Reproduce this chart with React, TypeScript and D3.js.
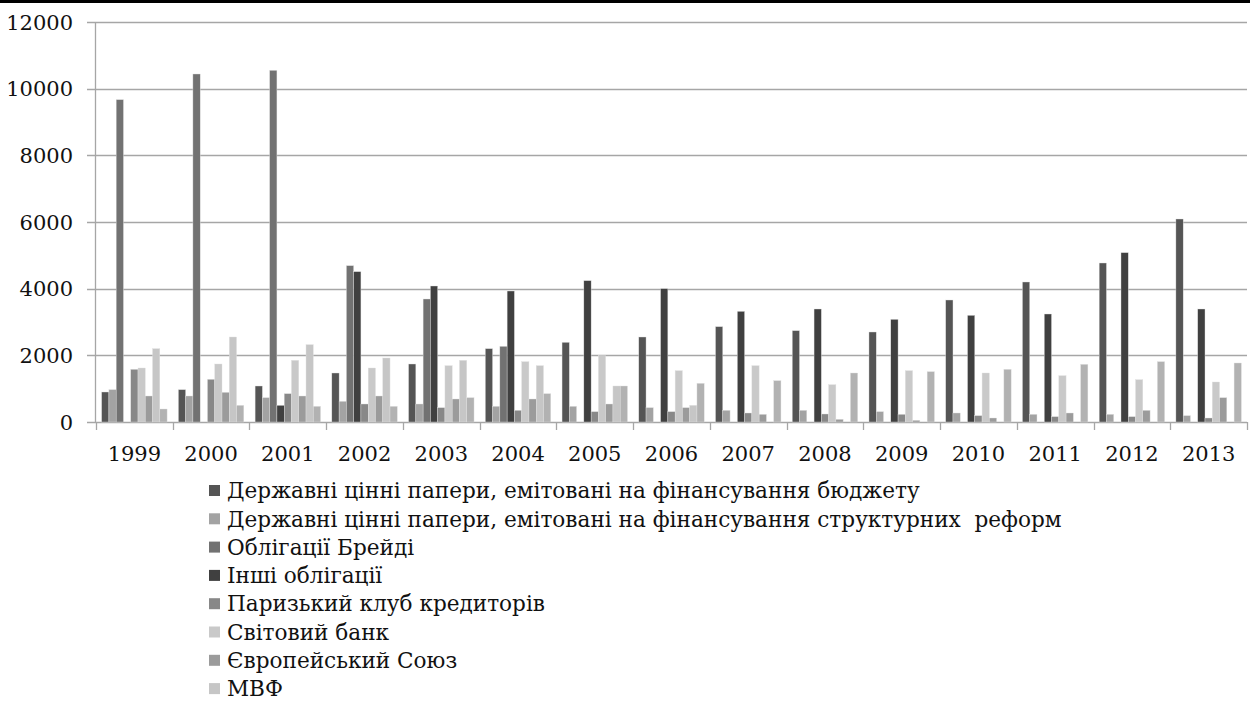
import React from "react";
import * as d3 from "d3";

const years = ["1999", "2000", "2001", "2002", "2003", "2004", "2005", "2006", "2007", "2008", "2009", "2010", "2011", "2012", "2013"];

const seriesNames = [
  "Державні цінні папери, емітовані на фінансування бюджету",
  "Державні цінні папери, емітовані на фінансування структурних  реформ",
  "Облігації Брейді",
  "Інші облігації",
  "Паризький клуб кредиторів",
  "Світовий банк",
  "Європейський Союз",
  "МВФ",
  "Інші кредитори",
];

const budgetBonds = [900, 970, 1080, 1470, 1740, 2200, 2390, 2550, 2860, 2740, 2700, 3660, 4200, 4770, 6090];
const reformBonds = [970, 780, 730, 620, 540, 470, 470, 430, 350, 350, 310, 270, 230, 230, 190];
const bradyBonds = [9670, 10440, 10550, 4690, 3690, 2270, 0, 0, 0, 0, 0, 0, 0, 0, 0];
const otherBonds = [0, 0, 500, 4510, 4080, 3930, 4240, 4000, 3320, 3390, 3080, 3200, 3240, 5080, 3390];
const parisClub = [1580, 1280, 850, 540, 430, 350, 310, 310, 270, 240, 230, 190, 160, 160, 120];
const worldBank = [1620, 1740, 1850, 1620, 1690, 1810, 1990, 1540, 1690, 1120, 1540, 1470, 1390, 1270, 1200];
const euUnion = [780, 890, 780, 780, 690, 690, 540, 430, 230, 80, 50, 120, 270, 350, 730];
const imf = [2200, 2550, 2320, 1920, 1850, 1690, 1080, 500, 0, 0, 0, 0, 0, 0, 0];
const otherCreditors = [390, 500, 470, 470, 730, 850, 1080, 1160, 1240, 1470, 1510, 1580, 1730, 1810, 1770];

const yTicks = [0, 2000, 4000, 6000, 8000, 10000, 12000];

const seriesValues = [budgetBonds, reformBonds, bradyBonds, otherBonds, parisClub, worldBank, euUnion, imf, otherCreditors];
const colors = ["#555555", "#a3a3a3", "#727272", "#404040", "#888888", "#c9c9c9", "#9b9b9b", "#c6c6c6", "#b2b2b2"];

const W = 1250;
const H = 702;
const left = 96;
const right = 1247;
const top = 22;
const bottom = 422;
const font = "'DejaVu Serif'";

export default function App() {
  const x = d3.scaleBand<string>().domain(years).range([left, right]).paddingInner(0.147).paddingOuter(0.0735);
  const step = x.step();
  const xs = d3.scaleBand<number>().domain(d3.range(seriesValues.length)).range([0, x.bandwidth()]);
  const y = d3.scaleLinear().domain([0, 12000]).range([bottom, top]);

  // only 8 legend rows fit in the picture
  const legendCount = 8;

  return (
    <div style={{ position: "absolute", left: 0, top: 0 }}>
      <svg width={W} height={H} style={{ display: "block" }}>
        <rect x={0} y={0} width={W} height={H} fill="#fff" />
        <line x1={0} x2={W} y1={1.5} y2={1.5} stroke="#000" strokeWidth={3} />

        {/* gridlines + y ticks */}
        {yTicks.map((t) => (
          <g key={t}>
            <line x1={left - 9} x2={right} y1={Math.round(y(t)) + 0.5} y2={Math.round(y(t)) + 0.5} stroke="#a6a6a6" strokeWidth={1.3} />
            <text x={73} y={y(t)} dy="0.36em" textAnchor="end" fontSize={21} fill="#111" style={{ fontFamily: font }}>
              {t}
            </text>
          </g>
        ))}
        <line x1={left - 0.5} x2={left - 0.5} y1={top} y2={bottom} stroke="#a6a6a6" strokeWidth={1.3} />

        {/* x ticks */}
        {d3.range(years.length + 1).map((i) => {
          const px = Math.round(left + i * step) + 0.5;
          return <line key={i} x1={px} x2={px} y1={bottom} y2={bottom + 8} stroke="#a6a6a6" strokeWidth={1.3} />;
        })}

        {/* bars */}
        {years.map((yr, i) => (
          <g key={yr} transform={`translate(${x(yr)},0)`}>
            {seriesValues.map((vals, s) =>
              vals[i] > 0 ? (
                <rect
                  key={s}
                  x={xs(s)}
                  width={xs.bandwidth()}
                  y={y(vals[i])}
                  height={y(0) - y(vals[i])}
                  fill={colors[s]}
                  stroke="#e0e0e0"
                  strokeWidth={0.4}
                />
              ) : null
            )}
          </g>
        ))}

        {/* year labels */}
        {years.map((yr) => (
          <text key={yr} x={x(yr)! + x.bandwidth() / 2} y={461} textAnchor="middle" fontSize={21} fill="#111" style={{ fontFamily: font }}>
            {yr}
          </text>
        ))}

        {/* legend */}
        {seriesNames.slice(0, legendCount).map((name, i) => {
          const cy = 490.5 + i * 28.3;
          return (
            <g key={name}>
              <rect x={209} y={cy - 5.5} width={11} height={11} fill={colors[i]} />
              <text x={227} y={cy} dy="0.36em" fontSize={21.6} fill="#111" style={{ fontFamily: font, whiteSpace: "pre" }}>
                {name}
              </text>
            </g>
          );
        })}
      </svg>
    </div>
  );
}
